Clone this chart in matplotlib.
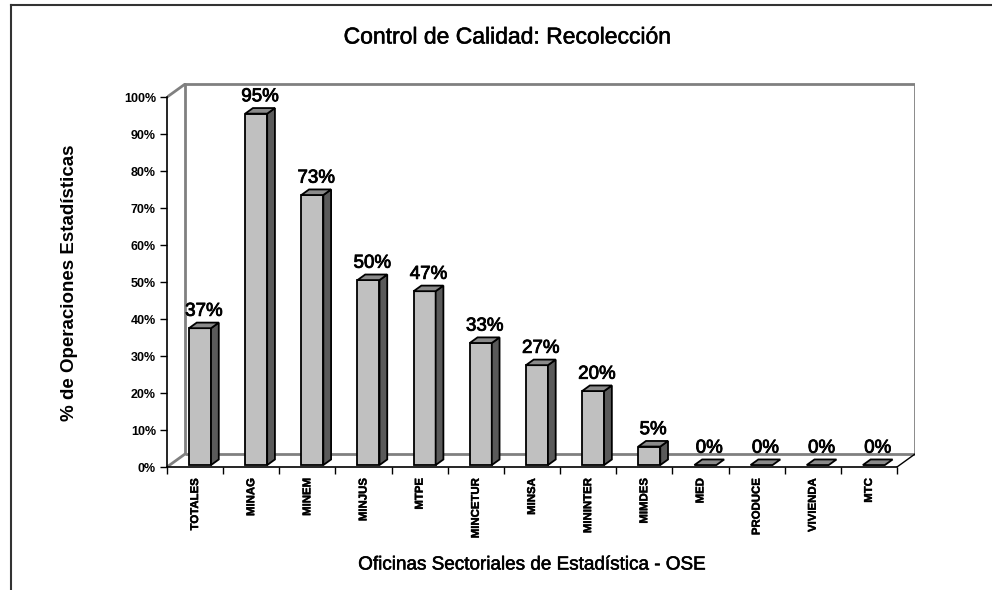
import matplotlib
matplotlib.use("Agg")
import matplotlib.pyplot as plt
import matplotlib.patheffects as pe
from matplotlib.patches import Polygon
from matplotlib.lines import Line2D
from matplotlib.ticker import PercentFormatter, FixedLocator

plt.rcParams['font.family'] = ['Liberation Sans', 'DejaVu Sans']

categories = ["TOTALES", "MINAG", "MINEM", "MINJUS", "MTPE", "MINCETUR", "MINSA",
              "MININTER", "MIMDES", "MED", "PRODUCE", "VIVIENDA", "MTC"]
values = [37, 95, 73, 50, 47, 33, 27, 20, 5, 0, 0, 0, 0]
yticks = list(range(0, 101, 10))
title = "Control de Calidad: Recolección"
xlabel = "Oficinas Sectoriales de Estadística - OSE"
ylabel = "% de Operaciones Estadísticas"

W, H = 992, 590
fig = plt.figure(figsize=(W / 100, H / 100), dpi=100)
fig.patch.set_facecolor("white")

thick = [pe.withStroke(linewidth=0.6, foreground="black")]

n = len(categories)
DX = 0.3206   # depth offset in category units
DY = 3.51     # depth offset in percent units

# axes: front axis x 167..915 px, y 467..83 px
ax = fig.add_axes([167 / W, (H - 467) / H, (915 - 167) / W, (467 - 83) / H])
ax.set_xlim(0, n + DX)
ax.set_ylim(0, 100 + DY + 0.3)
ax.set_facecolor("none")

grey = "#808080"
# walls
ax.plot([DX, DX, n + DX, n + DX, DX], [DY, 100 + DY, 100 + DY, DY, DY],
        color=grey, lw=2, solid_capstyle="butt", zorder=1)
ax.plot([0, DX], [100, 100 + DY], color=grey, lw=2, zorder=1)
ax.plot([0, DX], [0, DY], color=grey, lw=2, zorder=1)
ax.plot([n, n + DX], [0, DY], color="black", lw=1, zorder=1)

# bars
t0, t1 = 0.15, 0.58
ox, oy = t0 * DX, t0 * DY
ddx, ddy = (t1 - t0) * DX, (t1 - t0) * DY
bl, br = 0.344, 0.736
for i, v in enumerate(values):
    x0 = i + bl + ox
    x1 = i + br + ox
    y0 = oy
    y1 = oy + v
    if v > 0:
        ax.add_patch(Polygon([(x0, y0), (x1, y0), (x1, y1), (x0, y1)], closed=True,
                             facecolor="#c0c0c0", edgecolor="black", lw=1.3, zorder=3,
                             joinstyle="miter"))
        ax.add_patch(Polygon([(x1, y0), (x1 + ddx, y0 + ddy), (x1 + ddx, y1 + ddy), (x1, y1)],
                             closed=True, facecolor="#5a5a5a", edgecolor="black", lw=1.3,
                             zorder=3, joinstyle="miter"))
    ax.add_patch(Polygon([(x0, y1), (x1, y1), (x1 + ddx, y1 + ddy), (x0 + ddx, y1 + ddy)],
                         closed=True, facecolor="#8a8a8a", edgecolor="black", lw=1.3,
                         zorder=3, joinstyle="miter"))
    ax.annotate(f"{v}%", xy=((x0 + x1 + ddx) / 2, y1 + ddy), xytext=(0, 2),
                textcoords="offset points", ha="center", va="bottom",
                fontsize=13.5, color="black", zorder=4, path_effects=thick)

# spines / ticks
for s in ["top", "right"]:
    ax.spines[s].set_visible(False)
ax.spines["left"].set_bounds(0, 100)
ax.spines["bottom"].set_bounds(0, n)
ax.spines["left"].set_linewidth(1.2)
ax.spines["bottom"].set_linewidth(1.2)
ax.spines["left"].set_zorder(5)
ax.spines["bottom"].set_zorder(5)

ax.yaxis.set_major_locator(FixedLocator(yticks))
ax.yaxis.set_major_formatter(PercentFormatter(decimals=0))
ax.tick_params(axis="y", direction="out", length=5, width=1, pad=3,
               labelsize=9)

ax.set_xticks(list(range(n + 1)), labels=[""] * (n + 1))
ax.tick_params(axis="x", which="major", direction="out", length=5, width=1)

# category labels (rotated, bold)
for i, cat in enumerate(categories):
    ax.annotate(cat, xy=(i + 0.5, 0), xycoords=ax.get_xaxis_transform(),
                xytext=(0, -8), textcoords="offset points",
                rotation=90, ha="center", va="top", fontsize=8.2,
                fontweight="bold", annotation_clip=False,
                path_effects=[pe.withStroke(linewidth=0.3, foreground="black")])

# texts
fig.text(507 / W, 1 - 37 / H, title, ha="center", va="center", fontsize=16.5,
         path_effects=[pe.withStroke(linewidth=0.4, foreground="black")])
fig.text(531 / W, 1 - 565 / H, xlabel, ha="center", va="center", fontsize=13.6,
         path_effects=[pe.withStroke(linewidth=0.4, foreground="black")])
fig.text(70 / W, 1 - 283 / H, ylabel, ha="center", va="center", fontsize=13.5,
         rotation=90, fontweight="bold")

# figure border (left and top)
fig.add_artist(Line2D([10.5 / W, 10.5 / W], [0, 1 - 5 / H], color="#333333", lw=1.5,
                      transform=fig.transFigure))
fig.add_artist(Line2D([10.5 / W, 1], [1 - 5 / H, 1 - 5 / H], color="#333333", lw=1.5,
                      transform=fig.transFigure))

fig.canvas.draw()
for lab in ax.get_yticklabels():
    lab.set_fontweight("bold")

fig.savefig("out.png", dpi=100, facecolor="white")
